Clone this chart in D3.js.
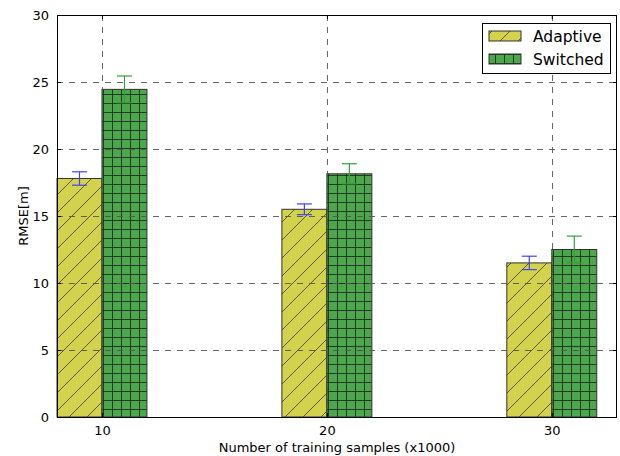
<!DOCTYPE html>
<html>
<head>
<meta charset="utf-8">
<script src="https://cdn.jsdelivr.net/npm/d3@7"></script>
<style>
  body { margin: 0; background: #fff; }
  svg { font-family: "DejaVu Sans", sans-serif; }
</style>
</head>
<body>
<svg id="chart"></svg>
<script>
// chart data
const samples = [10, 20, 30];
const adaptive = [17.8, 15.5, 11.5];
const adaptiveErr = [0.5, 0.4, 0.5];
const switched = [24.45, 18.15, 12.5];
const switchedErr = [1.0, 0.75, 1.0];
const yTicks = [0, 5, 10, 15, 20, 25, 30];
const seriesNames = ["Adaptive", "Switched"];

let width = 620;
let height = 456;
let margin = { top: 15, right: 3, bottom: 39, left: 57 };
const barWidth = 2;

let svg = d3.select("#chart")
    .attr("width", width)
    .attr("height", height);

// hatch patterns
let defs = svg.append("defs");
let diag = defs.append("pattern")
    .attr("id", "hatchDiag")
    .attr("patternUnits", "userSpaceOnUse")
    .attr("width", 18).attr("height", 18);
diag.append("rect").attr("width", 18).attr("height", 18).attr("fill", "#d2d24d");
diag.append("path")
    .attr("d", "M0,18 L18,0 M-9,9 L9,-9 M9,27 L27,9")
    .attr("stroke", "#3d3d1a").attr("stroke-width", 0.8);

let grid = defs.append("pattern")
    .attr("id", "hatchGrid")
    .attr("patternUnits", "userSpaceOnUse")
    .attr("width", 9).attr("height", 9);
grid.append("rect").attr("width", 9).attr("height", 9).attr("fill", "#4da64d");
grid.append("path")
    .attr("d", "M0,4.5 H9 M4.5,0 V9")
    .attr("stroke", "#173317").attr("stroke-width", 0.9);

// scales
let x = d3.scaleLinear()
    .domain([8, 32.9])
    .range([margin.left, width - margin.right]);

let y = d3.scaleLinear()
    .domain([0, 30])
    .range([height - margin.bottom, margin.top]);

const colors = ["url(#hatchDiag)", "url(#hatchGrid)"];
const errColors = ["#4040ff", "#33a033"];
const values = [adaptive, switched];
const errs = [adaptiveErr, switchedErr];

// bars
values.forEach((vals, s) => {
    svg.append("g")
        .selectAll("rect")
        .data(samples.map((d, i) => ({ x: d, v: vals[i] })))
        .join("rect")
        .attr("x", d => x(s === 0 ? d.x - barWidth : d.x))
        .attr("y", d => y(d.v))
        .attr("width", x(barWidth) - x(0))
        .attr("height", d => y(0) - y(d.v))
        .attr("fill", colors[s])
        .attr("stroke", "#333")
        .attr("stroke-width", 1);
});

// grid lines on top of bars
let gridG = svg.append("g")
    .attr("stroke", "#555")
    .attr("stroke-width", 0.9)
    .attr("stroke-dasharray", "6,6");
gridG.selectAll("line.h")
    .data(yTicks)
    .join("line")
    .attr("class", "h")
    .attr("x1", margin.left).attr("x2", width - margin.right)
    .attr("y1", d => Math.round(y(d)) + 0.5).attr("y2", d => Math.round(y(d)) + 0.5);
gridG.selectAll("line.v")
    .data(samples)
    .join("line")
    .attr("class", "v")
    .attr("x1", d => Math.round(x(d)) + 0.5).attr("x2", d => Math.round(x(d)) + 0.5)
    .attr("y1", margin.top).attr("y2", height - margin.bottom);

// error bars
values.forEach((vals, s) => {
    let g = svg.append("g")
        .attr("stroke", errColors[s])
        .attr("stroke-width", 1.2);
    samples.forEach((d, i) => {
        let cx = x(s === 0 ? d - barWidth / 2 : d + barWidth / 2);
        let top = y(vals[i] + errs[s][i]);
        let bot = y(vals[i] - errs[s][i]);
        g.append("line").attr("x1", cx).attr("x2", cx).attr("y1", top).attr("y2", bot);
        g.append("line").attr("x1", cx - 7.5).attr("x2", cx + 7.5).attr("y1", top).attr("y2", top);
        g.append("line").attr("x1", cx - 7.5).attr("x2", cx + 7.5).attr("y1", bot).attr("y2", bot);
    });
});

// axes (ticks inward, classic look)
let bottomAxis = svg.append("g")
    .attr("transform", `translate(0,${height - margin.bottom})`)
    .call(d3.axisBottom(x).tickValues(samples).tickSizeInner(-4).tickSizeOuter(0).tickPadding(9));
let topAxis = svg.append("g")
    .attr("transform", `translate(0,${margin.top})`)
    .call(d3.axisTop(x).tickValues(samples).tickSizeInner(-4).tickSizeOuter(0).tickFormat(""));
let leftAxis = svg.append("g")
    .attr("transform", `translate(${margin.left},0)`)
    .call(d3.axisLeft(y).tickValues(yTicks).tickSizeInner(-4).tickSizeOuter(0).tickPadding(8));
let rightAxis = svg.append("g")
    .attr("transform", `translate(${width - margin.right},0)`)
    .call(d3.axisRight(y).tickValues(yTicks).tickSizeInner(-4).tickSizeOuter(0).tickFormat(""));

[bottomAxis, topAxis, leftAxis, rightAxis].forEach(a => {
    a.select(".domain").remove();
    a.selectAll("text").attr("font-size", 13).attr("fill", "#000")
        .attr("font-family", "DejaVu Sans");
    a.selectAll("line").attr("stroke", "#000");
});

// frame
svg.append("rect")
    .attr("x", margin.left + 0.5)
    .attr("y", margin.top + 0.5)
    .attr("width", width - margin.left - margin.right - 1)
    .attr("height", height - margin.top - margin.bottom)
    .attr("fill", "none")
    .attr("stroke", "#000")
    .attr("stroke-width", 1);

// axis labels
svg.append("text")
    .attr("x", (margin.left + width - margin.right) / 2)
    .attr("y", 452)
    .attr("text-anchor", "middle")
    .attr("font-size", 13)
    .text("Number of training samples (x1000)");

svg.append("text")
    .attr("transform", `translate(28,${(margin.top + height - margin.bottom) / 2}) rotate(-90)`)
    .attr("text-anchor", "middle")
    .attr("font-size", 13)
    .text("RMSE[m]");

// legend
let legend = svg.append("g").attr("transform", "translate(482,23)");
legend.append("rect")
    .attr("x", 0.5).attr("y", 0.5)
    .attr("width", 128).attr("height", 50)
    .attr("fill", "#fff").attr("stroke", "#000").attr("stroke-width", 1);
seriesNames.forEach((name, i) => {
    legend.append("rect")
        .attr("x", 7).attr("y", 8 + i * 23)
        .attr("width", 32).attr("height", 10)
        .attr("fill", colors[i])
        .attr("stroke", "#333");
    legend.append("text")
        .attr("x", 51).attr("y", 18.5 + i * 23)
        .attr("font-size", 15.5)
        .text(name);
});
</script>
</body>
</html>
